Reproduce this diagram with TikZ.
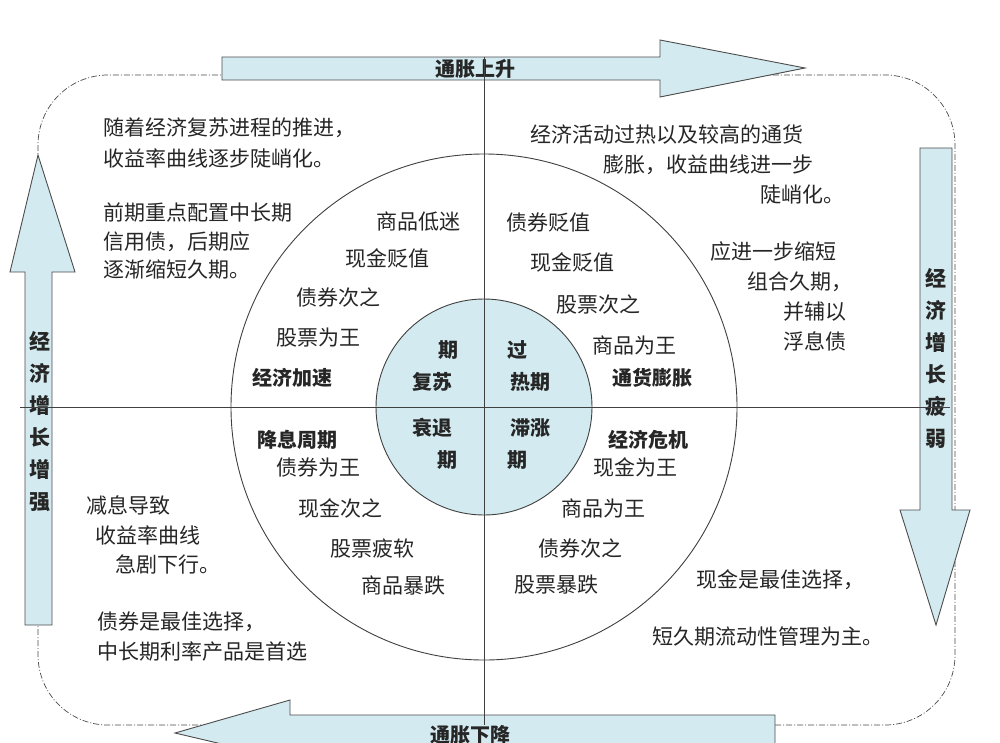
\documentclass[tikz,border=0pt]{standalone}
\usepackage{fontspec}
\setmainfont{Noto Sans CJK SC}
\definecolor{lb}{HTML}{D3EBF0}
\begin{document}
\begin{tikzpicture}[x=1pt,y=-1pt,
  t/.style={font=\fontsize{21}{23}\selectfont,text=black!85,inner sep=0pt},
  tb/.style={t,font=\fontsize{20}{22}\selectfont\bfseries},
  tl/.style={t,anchor=west},
  arr/.style={draw=black!70,fill=lb,line width=0.9pt},
  axis/.style={draw=black!75,line width=0.8pt}]
\useasboundingbox (0,0) rectangle (1000,742);
\fill[white] (0,0) rectangle (1000,742);
% frame
\draw[black!70,dash pattern=on 6pt off 2pt on 1pt off 2pt,line width=0.7pt,rounded corners=70] (38,75) rectangle (955,725);
% arrows
\draw[arr] (222,57) -- (660,57) -- (660,40) -- (805,68) -- (660,97) -- (660,80) -- (222,80) -- cycle;
\node[tb] (up) at (475,69) {通胀上升};
\draw[arr] (920,148) -- (952,148) -- (952,510) -- (970,510) -- (936,625) -- (900,510) -- (920,510) -- cycle;
\node[tb,align=center,font=\fontsize{21}{32}\selectfont\bfseries] (weak) at (936,358) {经\\济\\增\\长\\疲\\弱};
\draw[arr] (775,715) -- (290,715) -- (290,700) -- (175,733) -- (290,760) -- (290,750) -- (775,750) -- cycle;
\node[tb] (down) at (470,735) {通胀下降};
\draw[arr] (25,625) -- (52,625) -- (52,272) -- (75,272) -- (38,155) -- (10,272) -- (25,272) -- cycle;
\node[tb,align=center,font=\fontsize{21}{32}\selectfont\bfseries] (strong) at (40,422) {经\\济\\增\\长\\增\\强};
% circles
\node[circle,draw=black!75,line width=0.9pt,minimum size=506pt,inner sep=0pt] (outer) at (484,407) {};
\node[circle,draw=black!75,line width=0.9pt,fill=lb,minimum size=216pt,inner sep=0pt] (inner) at (484,407) {};
% axes
\coordinate (vt) at (484,57); \coordinate (vb) at (484,725);
\coordinate (hl) at (20,407); \coordinate (hr) at (950,407);
\draw[axis] (vt) -- (vb);
\draw[axis] (hl) -- (hr);
% inner
\node[tb] (a1) at (448,350) {期};
\node[tb] (a2) at (432,382) {复苏};
\node[tb] (b1) at (517,350) {过};
\node[tb] (b2) at (530,382) {热期};
\node[tb] (c1) at (432,428) {衰退};
\node[tb] (c2) at (447,460) {期};
\node[tb] (d1) at (530,428) {滞涨};
\node[tb] (d2) at (517,460) {期};
% TL circle
\node[t] (tl1) at (418,222) {商品低迷};
\node[t] (tl2) at (387,258) {现金贬值};
\node[t] (tl3) at (338,298) {债券次之};
\node[t] (tl4) at (318,338) {股票为王};
\node[tb] (tl5) at (292,378) {经济加速};
% TR circle
\node[t] (tr1) at (548,222) {债券贬值};
\node[t] (tr2) at (572,262) {现金贬值};
\node[t] (tr3) at (598,305) {股票次之};
\node[t] (tr4) at (634,345) {商品为王};
\node[tb] (tr5) at (652,378) {通货膨胀};
% BL circle
\node[tb] (bl1) at (297,440) {降息周期};
\node[t] (bl2) at (318,467) {债券为王};
\node[t] (bl3) at (340,508) {现金次之};
\node[t] (bl4) at (372,548) {股票疲软};
\node[t] (bl5) at (403,585) {商品暴跌};
% BR circle
\node[tb] (br1) at (648,440) {经济危机};
\node[t] (br2) at (635,467) {现金为王};
\node[t] (br3) at (603,508) {商品为王};
\node[t] (br4) at (580,548) {债券次之};
\node[t] (br5) at (556,585) {股票暴跌};
% outer texts TL
\node[tl] (x1) at (103,128) {随着经济复苏进程的推进，};
\node[tl] (x2) at (103,158) {收益率曲线逐步陡峭化。};
\node[tl] (x3) at (103,213) {前期重点配置中长期};
\node[tl] (x4) at (103,242) {信用债，后期应};
\node[tl] (x5) at (103,270) {逐渐缩短久期。};
% TR
\node[tl] (y1) at (530,135) {经济活动过热以及较高的通货};
\node[tl] (y2) at (603,165) {膨胀，收益曲线进一步};
\node[tl] (y3) at (760,195) {陡峭化。};
\node[t] (y4) at (773,252) {应进一步缩短};
\node[t] (y5) at (800,282) {组合久期，};
\node[t] (y6) at (815,312) {并辅以};
\node[t] (y7) at (815,341) {浮息债};
% BL
\node[t] (z1) at (128,505) {减息导致};
\node[t] (z2) at (148,535) {收益率曲线};
\node[t] (z3) at (168,565) {急剧下行。};
\node[tl] (z4) at (97,622) {债券是最佳选择，};
\node[tl] (z5) at (97,652) {中长期利率产品是首选};
% BR
\node[t] (w1) at (780,580) {现金是最佳选择，};
\node[t] (w2) at (768,637) {短久期流动性管理为主。};
\end{tikzpicture}
\end{document}
